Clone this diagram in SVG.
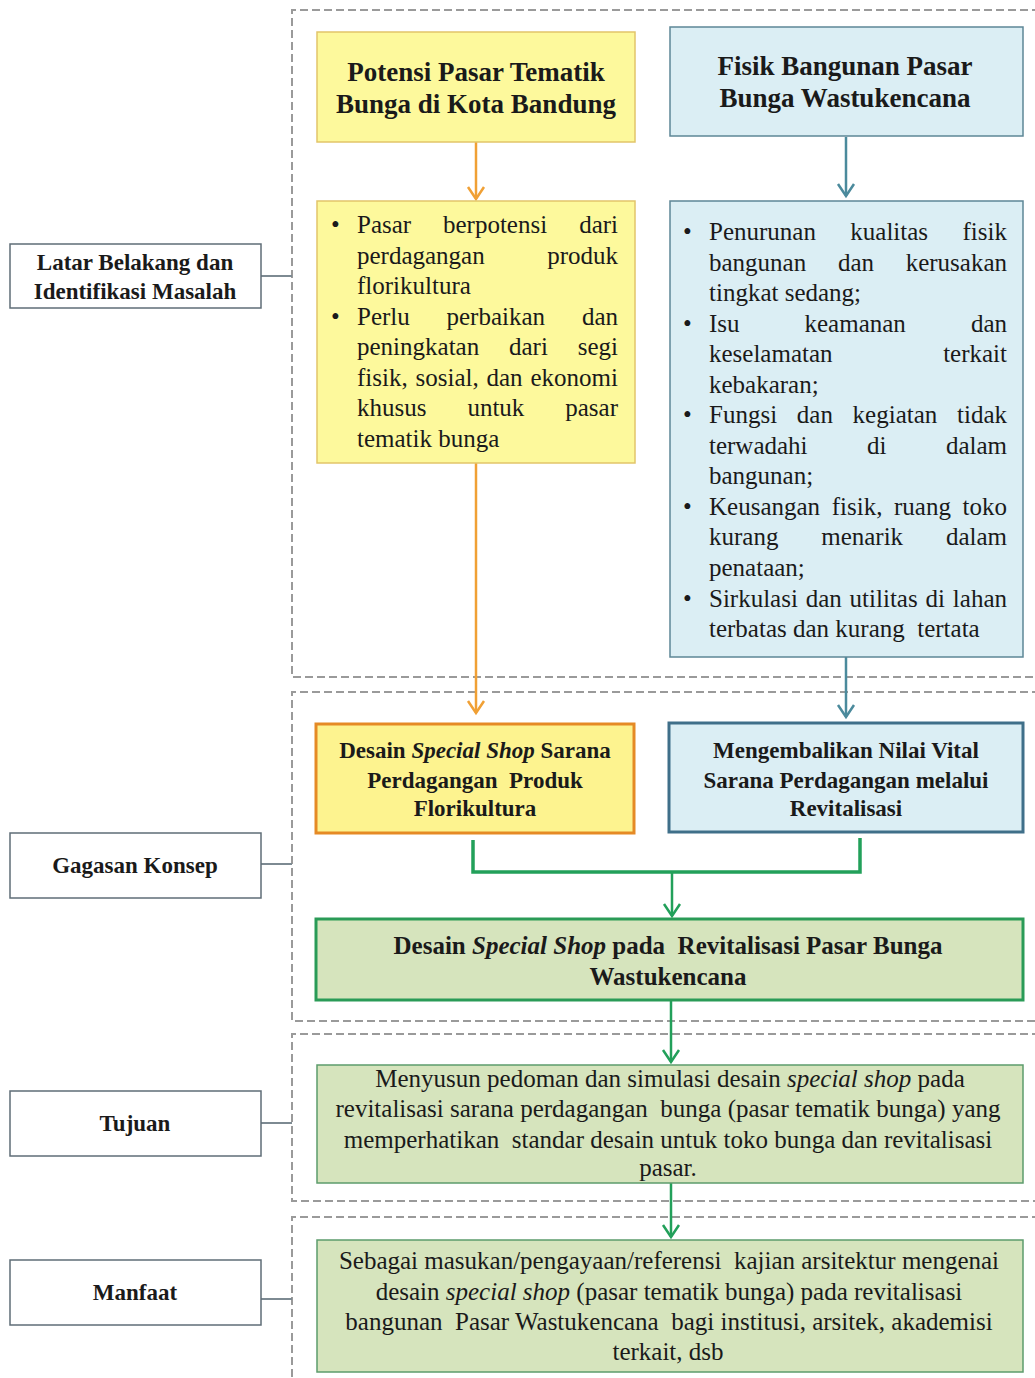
<svg xmlns="http://www.w3.org/2000/svg" width="1035" height="1378" viewBox="0 0 1035 1378">
<style>
text{font-family:"Liberation Serif","Times New Roman",serif;fill:#1a1a1a}
.b{font-weight:bold}
.lbl{font-size:23px;font-weight:bold;text-anchor:middle}
.ttl{font-size:27px;font-weight:bold;text-anchor:middle}
.body{font-size:25px}
.mid{text-anchor:middle}
.end{text-anchor:end}
.dash{fill:none;stroke:#9a9a9a;stroke-width:2;stroke-dasharray:8 4}
.labelbox{fill:#fff;stroke:#5f6d77;stroke-width:1.5}
.tick{fill:none;stroke:#7d8a92;stroke-width:2}
.yel{fill:#fdf99c;stroke:#e2c56a;stroke-width:1.5}
.yel2{fill:#fdf38f;stroke:#e58a25;stroke-width:3}
.blu{fill:#dbeef4;stroke:#5d8796;stroke-width:1.5}
.blu2{fill:#dbeef4;stroke:#3f6f89;stroke-width:3}
.grn{fill:#d6e4bd;stroke:#2a9b57;stroke-width:3}
.grn2{fill:#d6e4bd;stroke:#5c9c6c;stroke-width:1.5}
.ao{fill:none;stroke:#f0a035;stroke-width:2.5}
.ab{fill:none;stroke:#4b8a9c;stroke-width:2.5}
.ag{fill:none;stroke:#22a05a;stroke-width:2.5}
.ag3{fill:none;stroke:#22a05a;stroke-width:3.5}
</style>
<defs>
<marker id="mo" markerUnits="userSpaceOnUse" markerWidth="20" markerHeight="20" refX="0" refY="0" orient="auto" overflow="visible"><path d="M-12,-8 L0,0 L-12,8" fill="none" stroke="#f0a035" stroke-width="2.5"/></marker>
<marker id="mb" markerUnits="userSpaceOnUse" markerWidth="20" markerHeight="20" refX="0" refY="0" orient="auto" overflow="visible"><path d="M-12,-8 L0,0 L-12,8" fill="none" stroke="#4b8a9c" stroke-width="2.5"/></marker>
<marker id="mg" markerUnits="userSpaceOnUse" markerWidth="20" markerHeight="20" refX="0" refY="0" orient="auto" overflow="visible"><path d="M-12,-8 L0,0 L-12,8" fill="none" stroke="#22a05a" stroke-width="2.5"/></marker>
</defs>
<rect x="0" y="0" width="1035" height="1378" fill="#fff"/>

<g id="sections">
<path class="dash" d="M1040,10 H292 V677 H1040"/>
<path class="dash" d="M1040,692 H292 V1021 H1040"/>
<path class="dash" d="M1040,1034 H292 V1201 H1040"/>
<path class="dash" d="M1040,1217 H292 V1385"/>
</g>

<g id="connectors">
<path class="tick" d="M261,276 H292"/>
<path class="tick" d="M261,864 H292"/>
<path class="tick" d="M261,1123 H292"/>
<path class="tick" d="M261,1299 H292"/>
<path class="ao" d="M476,142 V199" marker-end="url(#mo)"/>
<path class="ab" d="M846,137 V196" marker-end="url(#mb)"/>
<path class="ao" d="M476,463 V713" marker-end="url(#mo)"/>
<path class="ab" d="M846,657 V717" marker-end="url(#mb)"/>
<path class="ag3" d="M473,840 V872 H860 V838"/>
<path class="ag" d="M672,872 V916" marker-end="url(#mg)"/>
<path class="ag" d="M671,1000 V1062" marker-end="url(#mg)"/>
<path class="ag" d="M671,1183 V1237" marker-end="url(#mg)"/>
</g>

<g id="label-latar">
<rect class="labelbox" x="10" y="244" width="251" height="64"/>
<text class="lbl" x="135" y="270">Latar Belakang dan</text>
<text class="lbl" x="135" y="299">Identifikasi Masalah</text>
</g>
<g id="label-gagasan">
<rect class="labelbox" x="10" y="833" width="251" height="65"/>
<text class="lbl" x="135" y="873">Gagasan Konsep</text>
</g>
<g id="label-tujuan">
<rect class="labelbox" x="10" y="1091" width="251" height="65"/>
<text class="lbl" x="135" y="1131">Tujuan</text>
</g>
<g id="label-manfaat">
<rect class="labelbox" x="10" y="1260" width="251" height="65"/>
<text class="lbl" x="135" y="1300">Manfaat</text>
</g>

<g id="node-potensi">
<rect class="yel" x="317" y="32" width="318" height="110"/>
<text class="ttl" x="476" y="81">Potensi Pasar Tematik</text>
<text class="ttl" x="476" y="113">Bunga di Kota Bandung</text>
</g>

<g id="node-fisik">
<rect class="blu" x="670" y="27" width="353" height="109"/>
<text class="ttl" x="845" y="75">Fisik Bangunan Pasar</text>
<text class="ttl" x="845" y="107">Bunga Wastukencana</text>
</g>

<g id="node-potensi-list">
<rect class="yel" x="317" y="201" width="318" height="262"/>
<text class="body" y="233"><tspan x="331">•</tspan><tspan x="357">Pasar</tspan><tspan x="443">berpotensi</tspan><tspan class="end" x="618">dari</tspan></text>
<text class="body" y="263.6"><tspan x="357">perdagangan</tspan><tspan class="end" x="618">produk</tspan></text>
<text class="body" x="357" y="294.1">florikultura</text>
<text class="body" y="324.7"><tspan x="331">•</tspan><tspan x="357">Perlu</tspan><tspan x="446.5">perbaikan</tspan><tspan class="end" x="618">dan</tspan></text>
<text class="body" y="355.3"><tspan x="357">peningkatan</tspan><tspan x="509">dari</tspan><tspan class="end" x="618">segi</tspan></text>
<text class="body" y="385.9"><tspan x="357">fisik,</tspan><tspan x="415.5">sosial,</tspan><tspan x="486.5">dan</tspan><tspan class="end" x="618">ekonomi</tspan></text>
<text class="body" y="416.4"><tspan x="357">khusus</tspan><tspan x="467.4">untuk</tspan><tspan class="end" x="618">pasar</tspan></text>
<text class="body" x="357" y="447">tematik bunga</text>
</g>

<g id="node-fisik-list">
<rect class="blu" x="670" y="201" width="353" height="456"/>
<text class="body" y="240"><tspan x="683">•</tspan><tspan x="709">Penurunan</tspan><tspan x="850.3">kualitas</tspan><tspan class="end" x="1007">fisik</tspan></text>
<text class="body" y="270.5"><tspan x="709">bangunan</tspan><tspan x="837.9">dan</tspan><tspan class="end" x="1007">kerusakan</tspan></text>
<text class="body" x="709" y="301.1">tingkat sedang;</text>
<text class="body" y="331.6"><tspan x="683">•</tspan><tspan x="709">Isu</tspan><tspan x="804.5">keamanan</tspan><tspan class="end" x="1007">dan</tspan></text>
<text class="body" y="362.2"><tspan x="709">keselamatan</tspan><tspan class="end" x="1007">terkait</tspan></text>
<text class="body" x="709" y="392.7">kebakaran;</text>
<text class="body" y="423.2"><tspan x="683">•</tspan><tspan x="709">Fungsi</tspan><tspan x="796.8">dan</tspan><tspan x="852.6">kegiatan</tspan><tspan class="end" x="1007">tidak</tspan></text>
<text class="body" y="453.8"><tspan x="709">terwadahi</tspan><tspan x="867">di</tspan><tspan class="end" x="1007">dalam</tspan></text>
<text class="body" x="709" y="484.3">bangunan;</text>
<text class="body" y="514.9"><tspan x="683">•</tspan><tspan x="709">Keusangan</tspan><tspan x="831.7">fisik,</tspan><tspan x="894">ruang</tspan><tspan class="end" x="1007">toko</tspan></text>
<text class="body" y="545.4"><tspan x="709">kurang</tspan><tspan x="821.2">menarik</tspan><tspan class="end" x="1007">dalam</tspan></text>
<text class="body" x="709" y="575.9">penataan;</text>
<text class="body" y="606.5"><tspan x="683">•</tspan><tspan x="709">Sirkulasi</tspan><tspan x="805.7">dan</tspan><tspan x="849.6">utilitas</tspan><tspan x="925.5">di</tspan><tspan class="end" x="1007">lahan</tspan></text>
<text class="body" x="709" y="637" xml:space="preserve">terbatas dan kurang  tertata</text>
</g>

<g id="node-desain-special">
<rect class="yel2" x="316" y="724" width="318" height="109"/>
<text class="b mid" font-size="23" x="475" y="758">Desain <tspan font-style="italic">Special Shop</tspan> Sarana</text>
<text class="b mid" font-size="23" x="475" y="788" xml:space="preserve">Perdagangan  Produk</text>
<text class="b mid" font-size="23" x="475" y="816">Florikultura</text>
</g>

<g id="node-mengembalikan">
<rect class="blu2" x="669" y="723" width="354" height="109"/>
<text class="b mid" font-size="23" x="846" y="758">Mengembalikan Nilai Vital</text>
<text class="b mid" font-size="23" x="846" y="788">Sarana Perdagangan melalui</text>
<text class="b mid" font-size="23" x="846" y="816">Revitalisasi</text>
</g>

<g id="node-desain-revitalisasi">
<rect class="grn" x="316" y="919" width="707" height="81"/>
<text class="b mid" font-size="25" x="668" y="954" xml:space="preserve">Desain <tspan font-style="italic">Special Shop</tspan> pada  Revitalisasi Pasar Bunga</text>
<text class="b mid" font-size="25" x="668" y="985">Wastukencana</text>
</g>

<g id="node-tujuan">
<rect class="grn2" x="317" y="1065" width="706" height="118"/>
<text class="body mid" x="670" y="1087">Menyusun pedoman dan simulasi desain <tspan font-style="italic">special shop</tspan> pada</text>
<text class="body mid" x="668" y="1117" xml:space="preserve">revitalisasi sarana perdagangan  bunga (pasar tematik bunga) yang</text>
<text class="body mid" x="668" y="1148" xml:space="preserve">memperhatikan  standar desain untuk toko bunga dan revitalisasi</text>
<text class="body mid" x="668" y="1176">pasar.</text>
</g>

<g id="node-manfaat">
<rect class="grn2" x="317" y="1240" width="706" height="132"/>
<text class="body mid" x="669" y="1269" xml:space="preserve">Sebagai masukan/pengayaan/referensi  kajian arsitektur mengenai</text>
<text class="body mid" x="669" y="1300">desain <tspan font-style="italic">special shop</tspan> (pasar tematik bunga) pada revitalisasi</text>
<text class="body mid" x="669" y="1330" xml:space="preserve">bangunan  Pasar Wastukencana  bagi institusi, arsitek, akademisi</text>
<text class="body mid" x="668" y="1360">terkait, dsb</text>
</g>
</svg>
